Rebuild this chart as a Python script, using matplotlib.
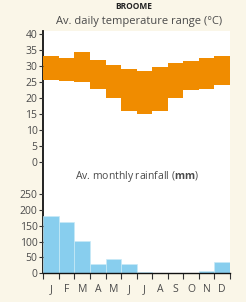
import matplotlib
matplotlib.use('Agg')
import matplotlib.pyplot as plt
import numpy as np

months = ['J', 'F', 'M', 'A', 'M', 'J', 'J', 'A', 'S', 'O', 'N', 'D']
temp_max = [33.2, 32.4, 34.5, 31.9, 30.2, 29.0, 28.4, 29.6, 31.0, 31.6, 32.4, 33.2]
temp_min = [25.6, 25.2, 24.9, 22.7, 20.0, 16.0, 15.0, 16.0, 20.0, 22.5, 23.0, 24.0]
rainfall = [180, 162, 102, 29, 45, 30, 3, 2, 1, 1, 8, 35]
temp_ticks = [0, 5, 10, 15, 20, 25, 30, 35, 40]
rain_ticks = [0, 50, 100, 150, 200, 250]

plt.rcParams['font.family'] = ['Open Sans', 'DejaVu Sans']
plt.rcParams['mathtext.fontset'] = 'custom'
plt.rcParams['mathtext.rm'] = 'Open Sans'
plt.rcParams['mathtext.bf'] = 'Open Sans:bold'

W, H = 246, 302
BG = '#FAF6E8'
TXT = '#4a4a4a'
fig = plt.figure(figsize=(W / 100, H / 100), dpi=100, facecolor=BG)


def box(x0, y0, x1, y1):
    return [x0 / W, 1 - y1 / H, (x1 - x0) / W, (y1 - y0) / H]


L, R = 43.3, 230
# white background panel with continuous left spine
bg = fig.add_axes(box(L, 31, R, 273.3))
bg.set_facecolor('white')
bg.set_xticks([])
bg.set_yticks([])
for s in ['top', 'right', 'bottom']:
    bg.spines[s].set_visible(False)
bg.spines['left'].set_linewidth(1.3)
bg.spines['left'].set_color('#111111')

x = np.arange(len(months))

# temperature
ta = fig.add_axes(box(L, 31, R, 162.3))
ta.patch.set_alpha(0)
for s in ta.spines.values():
    s.set_visible(False)
ta.bar(x, np.array(temp_max) - np.array(temp_min), bottom=temp_min, width=1.0,
       align='edge', color='#F08C00', edgecolor='none')
ta.set_xlim(0, 12)
ta.set_ylim(0, 40 * 131.3 / 128.3)
ta.set_xticks([])
ta.set_yticks(temp_ticks)
ta.tick_params(axis='y', direction='out', length=3, width=0.8, color='#333333',
               labelsize=7.5, labelcolor=TXT, pad=1.2)

# rainfall
ra = fig.add_axes(box(L, 194, R, 273.3))
ra.patch.set_alpha(0)
for s in ['top', 'right', 'left']:
    ra.spines[s].set_visible(False)
ra.spines['bottom'].set_color('#111111')
ra.spines['bottom'].set_linewidth(1.0)
ra.bar(x, rainfall, width=1.0, align='edge', color='#88CEEE',
       edgecolor='#C8EAF6', linewidth=0.5)
ra.set_xlim(0, 12)
ra.set_ylim(0, 250)
ra.set_yticks(rain_ticks)
ra.tick_params(axis='y', direction='out', length=3, width=0.8, color='#333333',
               labelsize=7.5, labelcolor=TXT, pad=1.2)
ra.set_xticks(np.arange(13))
ra.set_xticklabels([''] * 13)
ra.tick_params(axis='x', which='major', direction='out', length=4, width=0.8,
               color='#333333')
ra.set_xticks(x + 0.5, minor=True)
ra.set_xticklabels(months, minor=True)
ra.tick_params(axis='x', which='minor', length=0, pad=7.5, labelsize=7.5,
               labelcolor=TXT)

# titles
fig.text(133.5 / W, 1 - 6.7 / H, 'BROOME', ha='center', va='center',
         fontsize=6, fontweight='bold', color='#222222')
fig.text(139.5 / W, 1 - 21.7 / H, 'Av. daily temperature range (°C)',
         ha='center', va='center', fontsize=8, color=TXT)
fig.text(136.7 / W, 1 - 176 / H, r'Av. monthly rainfall ($\mathbf{mm}$)',
         ha='center', va='center', fontsize=7.5, color=TXT)

fig.savefig('out.png', dpi=100, facecolor=BG)
